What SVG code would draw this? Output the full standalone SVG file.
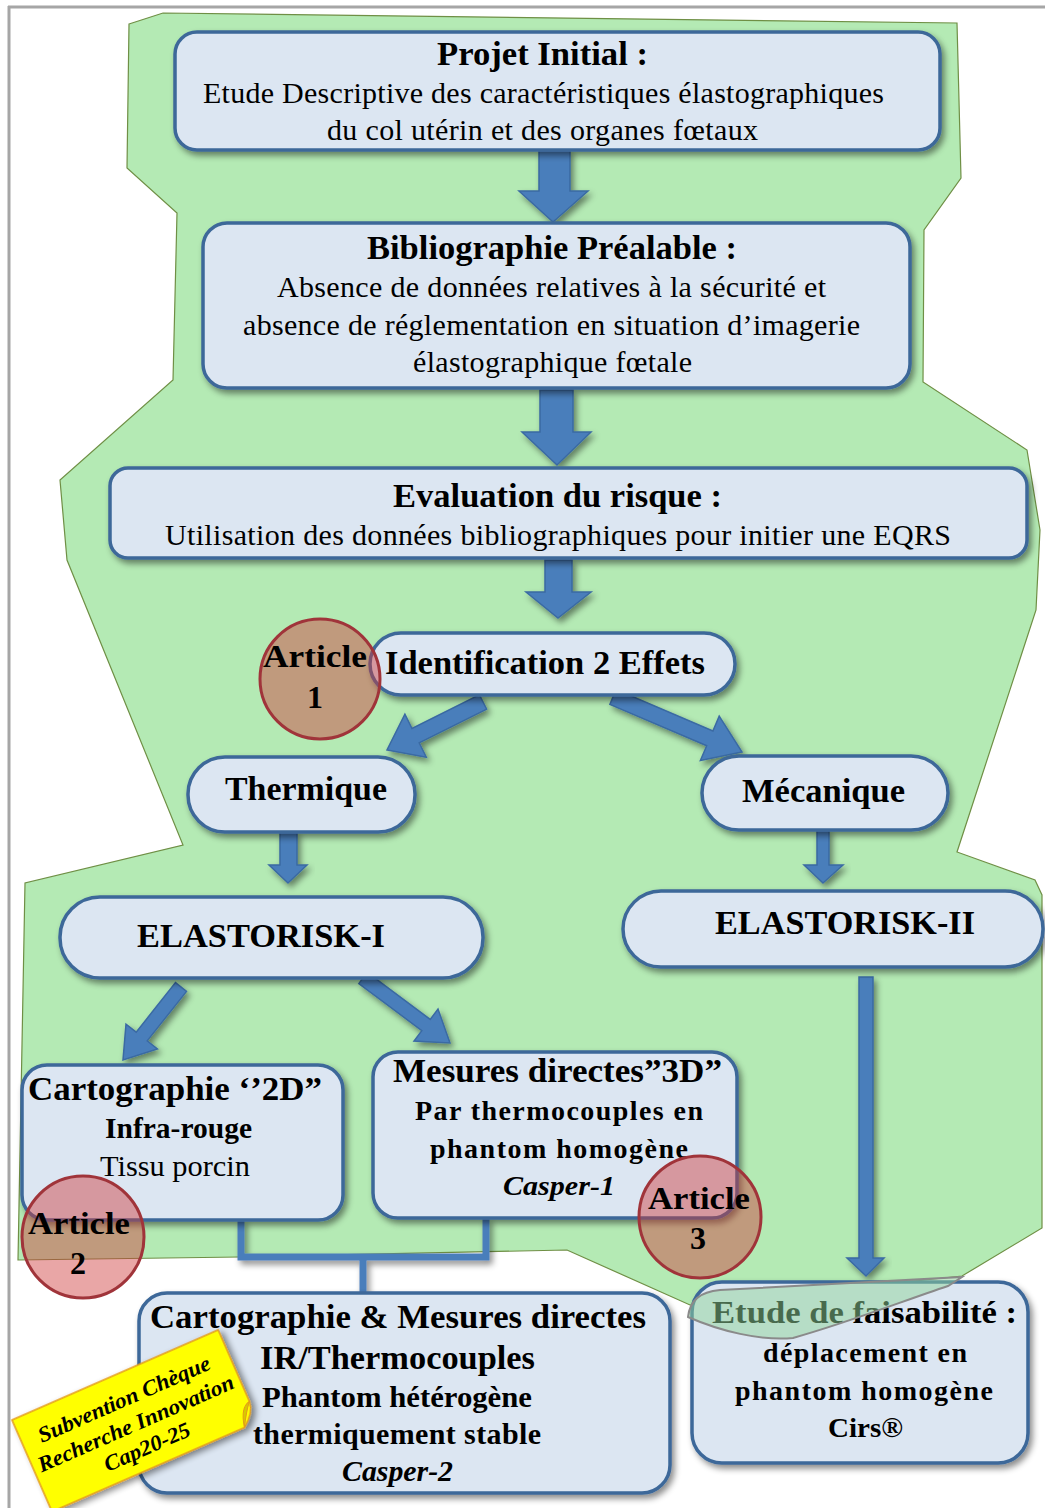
<svg xmlns="http://www.w3.org/2000/svg" width="1045" height="1508" viewBox="0 0 1045 1508">
<style>
text{font-family:"Liberation Serif","Times New Roman",serif;fill:#000}
.b{font-weight:bold}
.bi{font-weight:bold;font-style:italic}
.t{font-size:34px;font-weight:bold}
.r{font-size:30px}
.box{fill:#dce6f2;stroke:#3d6899;stroke-width:3.5}
.arr{fill:#4a7ebb;stroke:#3a6aa3;stroke-width:1.5}
.art{fill:#cf3a39;fill-opacity:0.45;stroke:#a0343a;stroke-width:3}
.con{fill:none;stroke:#4a7ebb;stroke-width:7}
</style>
<defs>
<filter id="sh" x="-10%" y="-10%" width="130%" height="140%">
<feDropShadow dx="3" dy="4" stdDeviation="3" flood-color="#000" flood-opacity="0.45"/>
</filter>
</defs>
<rect x="0" y="0" width="1045" height="1508" fill="#fff"/>
<line x1="8" y1="7" x2="1045" y2="7" stroke="#a6a6a6" stroke-width="3"/>
<line x1="9" y1="6" x2="9" y2="1508" stroke="#a6a6a6" stroke-width="3"/>
<polygon id="zone" fill="#b4eab4" stroke="#6f8f45" stroke-width="1.2" points="129,24 163,13 957,23 961,178 924,230 923,382 1027,450 1040,530 1036,610 957,852 1035,880 1042,895 1042,1228 962,1276 690,1305 567,1250 240,1257 18,1260 25,883 183,845 67,560 60,480 173,380 177,213 127,168"/>

<g id="connectors">
<polygon class="arr" filter="url(#sh)" points="539,150 570,150 570,191 588,191 553,222 519,191 539,191"/>
<polygon class="arr" filter="url(#sh)" points="540,390 573,390 573,432 591,432 557,465 522,432 540,432"/>
<polygon class="arr" filter="url(#sh)" points="545,560 572,560 572,592 591,592 558,618 526,592 545,592"/>
<polygon class="arr" filter="url(#sh)" points="486.6,709.2 479.4,694.8 412,728.5 404.9,714.2 387,750 426.3,757.2 419.2,742.8"/>
<polygon class="arr" filter="url(#sh)" points="609.9,704.4 616.1,689.6 712.9,731 719.2,716.2 742,752 700.4,760.4 706.7,745.7"/>
<polygon class="arr" filter="url(#sh)" points="280,832 297,832 297,865 307,865 288,883 269,865 280,865"/>
<polygon class="arr" filter="url(#sh)" points="817,830 829,830 829,865 843,865 823,883 804,865 817,865"/>
<polygon class="arr" filter="url(#sh)" points="186.5,991.4 175.5,982.6 136.2,1032.1 126,1024.1 123,1060 157.4,1048.9 147.2,1040.9"/>
<polygon class="arr" filter="url(#sh)" points="358.8,983.6 367.2,972.4 430.2,1019.4 438,1009 450,1043 414,1041 421.8,1030.6"/>
<polygon class="arr" filter="url(#sh)" points="859,977 873,977 873,1258 884,1258 866,1276 847,1258 859,1258"/>
<path class="con" filter="url(#sh)" d="M241 1220 V1257 H486 V1218 M363 1257 V1293"/>
</g>

<g id="projet">
<rect class="box" filter="url(#sh)" x="175" y="32" width="765" height="118" rx="22"/>
<text class="t" x="437" y="65" textLength="211" lengthAdjust="spacingAndGlyphs">Projet Initial :</text>
<text class="r" x="203" y="103" textLength="681" lengthAdjust="spacing">Etude Descriptive des caractéristiques élastographiques</text>
<text class="r" x="327" y="140" textLength="431" lengthAdjust="spacing">du col utérin et des organes fœtaux</text>
</g>

<g id="biblio">
<rect class="box" filter="url(#sh)" x="203" y="223" width="707" height="165" rx="24"/>
<text class="t" x="367" y="259" textLength="370" lengthAdjust="spacingAndGlyphs">Bibliographie Préalable :</text>
<text class="r" x="277" y="297" textLength="549" lengthAdjust="spacing">Absence de données relatives à la sécurité et</text>
<text class="r" x="243" y="335" textLength="617" lengthAdjust="spacing">absence de réglementation en situation d’imagerie</text>
<text class="r" x="413" y="372" textLength="279" lengthAdjust="spacing">élastographique fœtale</text>
</g>

<g id="evaluation">
<rect class="box" filter="url(#sh)" x="110" y="468" width="917" height="90" rx="18"/>
<text class="t" x="393" y="507" textLength="329" lengthAdjust="spacingAndGlyphs">Evaluation du risque :</text>
<text class="r" x="165" y="545" textLength="786" lengthAdjust="spacing">Utilisation des données bibliographiques pour initier une EQRS</text>
</g>

<g id="identification">
<rect class="box" filter="url(#sh)" x="370" y="633" width="365" height="62" rx="31"/>
<text class="t" x="385" y="674" textLength="320" lengthAdjust="spacingAndGlyphs">Identification 2 Effets</text>
</g>

<g id="thermique">
<rect class="box" filter="url(#sh)" x="188" y="757" width="227" height="75" rx="37"/>
<text class="t" x="225" y="800" textLength="162" lengthAdjust="spacingAndGlyphs">Thermique</text>
</g>

<g id="mecanique">
<rect class="box" filter="url(#sh)" x="702" y="756" width="246" height="74" rx="37"/>
<text class="t" x="742" y="802" textLength="163" lengthAdjust="spacingAndGlyphs">Mécanique</text>
</g>

<g id="elastorisk1">
<rect class="box" filter="url(#sh)" x="60" y="897" width="423" height="81" rx="40"/>
<text class="t" x="137" y="947" textLength="248" lengthAdjust="spacingAndGlyphs">ELASTORISK-I</text>
</g>

<g id="elastorisk2">
<rect class="box" filter="url(#sh)" x="623" y="891" width="420" height="76" rx="38"/>
<text class="t" x="715" y="934" textLength="260" lengthAdjust="spacingAndGlyphs">ELASTORISK-II</text>
</g>

<g id="cartographie2d">
<rect class="box" filter="url(#sh)" x="22" y="1065" width="321" height="155" rx="25"/>
<text class="t" x="28" y="1100" textLength="294" lengthAdjust="spacingAndGlyphs">Cartographie ‘’2D”</text>
<text class="b" font-size="29" x="105" y="1138" textLength="147" lengthAdjust="spacingAndGlyphs">Infra-rouge</text>
<text font-size="29" x="100" y="1176" textLength="150" lengthAdjust="spacingAndGlyphs">Tissu porcin</text>
</g>

<g id="mesures3d">
<rect class="box" filter="url(#sh)" x="373" y="1052" width="364" height="166" rx="25"/>
<text class="b" font-size="33" x="393" y="1082" textLength="329" lengthAdjust="spacingAndGlyphs">Mesures directes”3D”</text>
<text class="b" font-size="28" x="415" y="1120" textLength="288" lengthAdjust="spacing">Par thermocouples en</text>
<text class="b" font-size="28" x="430" y="1158" textLength="258" lengthAdjust="spacing">phantom homogène</text>
<text class="bi" font-size="28" x="503" y="1195" textLength="112" lengthAdjust="spacingAndGlyphs">Casper-1</text>
</g>

<g id="cartomesures">
<rect class="box" filter="url(#sh)" x="139" y="1293" width="531" height="200" rx="28"/>
<text class="t" x="150" y="1328" textLength="496" lengthAdjust="spacingAndGlyphs">Cartographie &amp; Mesures directes</text>
<text class="t" x="260" y="1369" textLength="275" lengthAdjust="spacingAndGlyphs">IR/Thermocouples</text>
<text class="b" font-size="30" x="262" y="1407" textLength="270" lengthAdjust="spacingAndGlyphs">Phantom hétérogène</text>
<text class="b" font-size="30" x="253" y="1444" textLength="288" lengthAdjust="spacing">thermiquement stable</text>
<text class="bi" font-size="30" x="342" y="1481" textLength="111" lengthAdjust="spacingAndGlyphs">Casper-2</text>
</g>

<g id="faisabilite">
<rect class="box" filter="url(#sh)" x="692" y="1282" width="336" height="181" rx="30"/>
<text class="b" font-size="31" x="712" y="1323" textLength="305" lengthAdjust="spacingAndGlyphs">Etude de faisabilité :</text>
<text class="b" font-size="28" x="763" y="1362" textLength="204" lengthAdjust="spacing">déplacement en</text>
<text class="b" font-size="28" x="735" y="1400" textLength="258" lengthAdjust="spacing">phantom homogène</text>
<text class="b" font-size="28" x="828" y="1437" textLength="75" lengthAdjust="spacingAndGlyphs">Cirs®</text>
<path d="M688 1317 C690 1300 700 1292 720 1290 L962 1277 L948 1286 C900 1302 850 1322 793 1338 C760 1341 720 1331 688 1317 Z" fill="#8fd39a" fill-opacity="0.5" stroke="#8a8a8a" stroke-width="2"/>
</g>

<g id="article1">
<circle class="art" cx="320" cy="679" r="60"/>
<text class="b" font-size="32" x="263" y="667" textLength="104" lengthAdjust="spacingAndGlyphs">Article</text>
<text class="b" font-size="32" x="315" y="708" text-anchor="middle">1</text>
</g>

<g id="article2">
<circle class="art" cx="83" cy="1237" r="61"/>
<text class="b" font-size="32" x="28" y="1234" textLength="102" lengthAdjust="spacingAndGlyphs">Article</text>
<text class="b" font-size="32" x="78" y="1274" text-anchor="middle">2</text>
</g>

<g id="article3">
<circle class="art" cx="700" cy="1217" r="61"/>
<text class="b" font-size="32" x="648" y="1209" textLength="102" lengthAdjust="spacingAndGlyphs">Article</text>
<text class="b" font-size="32" x="698" y="1249" text-anchor="middle">3</text>
</g>

<g id="subvention" transform="translate(12,1420) rotate(-23.6)">
<path d="M0 0 H225 V78 Q224 90 210 100 H0 Z" fill="#ffff00" stroke="#e39a1a" stroke-width="1.5" filter="url(#sh)"/>
<path d="M225 78 Q214 80 210 100 Q218 86 225 78 Z" fill="#d8c800" stroke="#e39a1a" stroke-width="1"/>
<text class="bi" font-size="22" x="111" y="33" text-anchor="middle" textLength="186" lengthAdjust="spacingAndGlyphs">Subvention Chèque</text>
<text class="bi" font-size="22" x="112" y="60" text-anchor="middle" textLength="212" lengthAdjust="spacingAndGlyphs">Recherche Innovation</text>
<text class="bi" font-size="22" x="113" y="86" text-anchor="middle" textLength="92" lengthAdjust="spacingAndGlyphs">Cap20-25</text>
</g>
</svg>
